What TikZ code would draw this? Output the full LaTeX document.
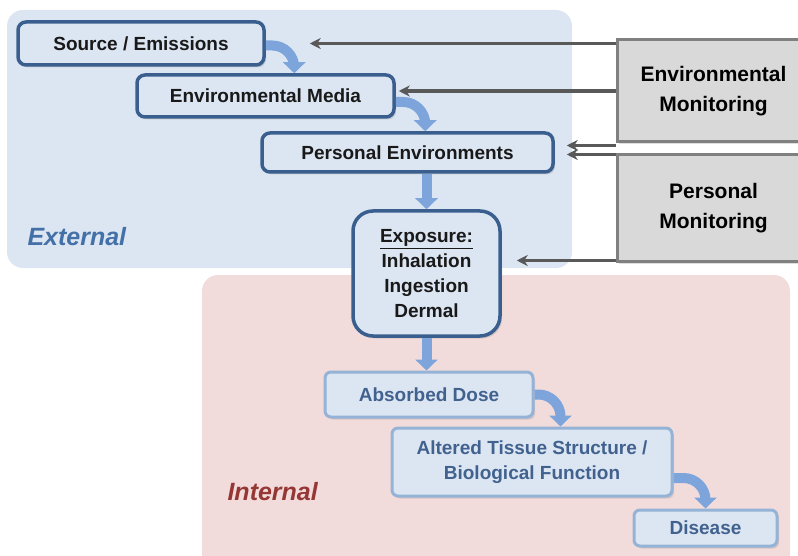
\documentclass[tikz,border=0pt]{standalone}
\usepackage{fontspec}
\setmainfont{Liberation Sans}
\usetikzlibrary{arrows.meta,positioning,shadows}

\definecolor{extbg}{HTML}{DCE6F2}
\definecolor{intbg}{HTML}{F2DCDB}
\definecolor{boxline}{HTML}{3A5F8E}
\definecolor{lightline}{HTML}{95B3D7}
\definecolor{lighttext}{HTML}{41618F}
\definecolor{flowblue}{HTML}{7DA5DC}
\definecolor{monfill}{HTML}{D9D9D9}
\definecolor{monline}{HTML}{808080}
\definecolor{monarrow}{HTML}{595959}
\definecolor{exttext}{HTML}{4470A8}
\definecolor{inttext}{HTML}{953735}

\begin{document}
\begin{tikzpicture}[x=1pt,y=-1pt,
    font=\fontsize{19}{25}\selectfont\bfseries,
    stage/.style={draw=boxline, line width=3.5pt, fill=extbg, rounded corners=8pt,
      text=black!90, align=center, inner sep=0pt,
      drop shadow={shadow xshift=2pt, shadow yshift=-2.5pt, opacity=0.25}},
    lightstage/.style={stage, draw=lightline, line width=3pt, rounded corners=6pt, text=lighttext},
    monitor/.style={draw=monline, line width=3pt, fill=monfill, align=center, inner sep=0pt,
      font=\fontsize{21}{30}\selectfont\bfseries, text=black,
      drop shadow={shadow xshift=2pt, shadow yshift=-2.5pt, opacity=0.25}},
    flow/.style={line width=10pt, draw=flowblue, rounded corners=22pt,
      -{Triangle[width=22pt,length=11pt]}},
    mon/.style={draw=monarrow, line width=3.2pt, -{Stealth[length=11pt,width=11pt]}},
    region/.style={font=\fontsize{25}{30}\selectfont\bfseries\itshape, anchor=west}]

    \clip (0,0) rectangle (798,556);

    % the two zones
    \fill[extbg, rounded corners=16pt] (7,10) rectangle (572,268);
    \fill[intbg, rounded corners=16pt] (202,275) rectangle (790,575);
    \node[region, text=exttext] (ext) at (24,237) {External};
    \node[region, text=inttext] (int) at (224,492) {Internal};

    % exposure chain
    \node[stage, minimum width=246pt, minimum height=43pt] (src) at (141,43.5) {Source / Emissions};
    \node[stage, minimum width=257pt, minimum height=42pt] (med) at (265.5,96) {Environmental Media};
    \node[stage, minimum width=291pt, minimum height=39pt] (penv) at (407.5,152.5) {Personal Environments};
    \node[stage, rounded corners=20pt, minimum width=147pt, minimum height=125pt] (exp) at (426.5,273.5)
      {\underline{Exposure:}\\Inhalation\\Ingestion\\Dermal};
    \node[lightstage, minimum width=208pt, minimum height=45pt] (dose) at (429,394.5) {Absorbed Dose};
    \node[lightstage, minimum width=280pt, minimum height=68pt] (tis) at (532,462)
      {Altered Tissue Structure /\\Biological Function};
    \node[lightstage, minimum width=143pt, minimum height=36pt] (dis) at (705.5,528) {Disease};

    % monitoring
    \node[monitor, minimum width=193pt, minimum height=102pt] (envmon) at (713.5,91) {Environmental\\Monitoring};
    \node[monitor, minimum width=193pt, minimum height=107pt] (permon) at (713.5,208.5) {Personal\\Monitoring};

    \draw[flow] ([yshift=-2pt]src.east) -| ([xshift=159pt]med.north west);
    \draw[flow] ([yshift=-6pt]med.east) -| ([xshift=165pt]penv.north west);
    \draw[flow] (exp.north |- penv.south) -- (exp.north);
    \draw[flow] (exp.south) -- (exp.south |- dose.north);
    \draw[flow] (dose.east) -| ([xshift=170pt]tis.north west);
    \draw[flow] ([yshift=-16pt]tis.east) -| (dis.north);

    \coordinate (m1) at ([yshift=5pt]med.east);
    \coordinate (p1) at ([yshift=-2pt]envmon.south west);
    \coordinate (p2) at ([yshift=-1pt]permon.north west);
    \coordinate (p3) at ([yshift=3pt]permon.south west);

    \path[every edge/.style={mon}]
    (envmon.west |- src.east) edge[shorten >=44pt] (src.east)
    (envmon.west |- m1) edge[shorten >=3pt] (m1)
    (p1) edge[shorten >=12pt] (p1 -| penv.east)
    (p2) edge[shorten >=12pt] (p2 -| penv.east)
    (p3) edge[shorten >=15pt] (p3 -| exp.east)
    ;
\end{tikzpicture}
\end{document}
